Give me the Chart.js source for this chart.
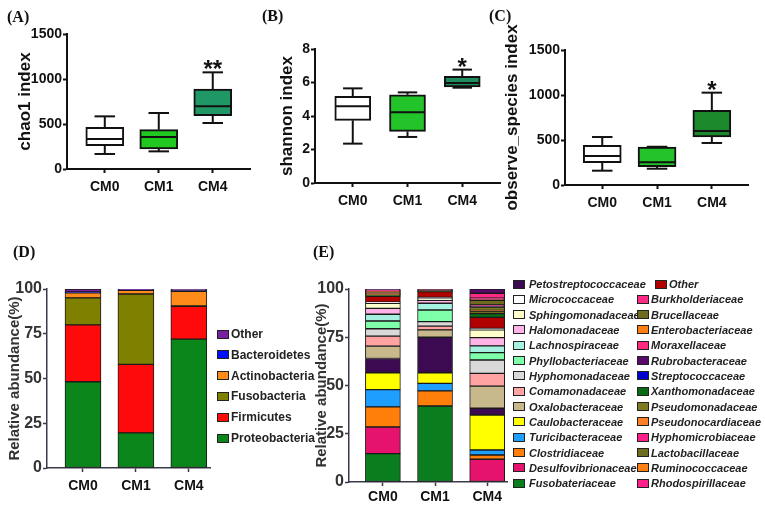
<!DOCTYPE html>
<html><head><meta charset="utf-8">
<script src="https://cdn.jsdelivr.net/npm/chart.js@4.4.1/dist/chart.umd.min.js"></script>
<style>
html,body{margin:0;padding:0;background:#fff;}
#wrap{position:relative;width:765px;height:505px;overflow:hidden;background:#fff;font-family:'Liberation Sans',Arial,sans-serif;}
canvas{position:absolute;}
.pl{position:absolute;font-family:'Liberation Serif','Times New Roman',serif;font-weight:bold;font-size:16px;color:#111;line-height:16px;}
.lg{position:absolute;display:flex;align-items:center;white-space:nowrap;font-weight:bold;color:#222;}
.lg i{position:absolute;box-sizing:border-box;border:1px solid #222;}
.lg span{position:absolute;}
</style></head><body>
<div id="wrap">
 <canvas id="cA" width="260" height="205" style="left:0;top:0"></canvas>
 <canvas id="cB" width="255" height="210" style="left:250px;top:0"></canvas>
 <canvas id="cC" width="265" height="210" style="left:500px;top:0"></canvas>
 <canvas id="cD" width="320" height="275" style="left:0;top:230px"></canvas>
 <canvas id="cE" width="200" height="275" style="left:310px;top:230px"></canvas>
 <div class="pl" style="left:7px;top:9px">(A)</div>
 <div class="pl" style="left:262px;top:8px">(B)</div>
 <div class="pl" style="left:489px;top:8px">(C)</div>
 <div class="pl" style="left:13px;top:244px">(D)</div>
 <div class="pl" style="left:313px;top:244px">(E)</div>
</div>
<script>
// ---------- data ----------
const groups = ['CM0', 'CM1', 'CM4'];
// five-number summaries per group: [min, q1, median, q3, max]
const chao1Stats   = [[167, 259, 333, 463, 585], [196, 222, 356, 437, 622], [511, 593, 696, 889, 1074]];
const shannonStats = [[2.35, 3.74, 4.58, 5.17, 5.65], [2.75, 3.08, 4.22, 5.27, 5.41], [5.69, 5.73, 5.97, 6.37, 6.77]];
const observeStats = [[159, 248, 322, 441, 533], [181, 204, 252, 422, 425], [467, 533, 600, 830, 1026]];
const chao1Sig   = ['', '', '**'];
const shannonSig = ['', '', '*'];
const observeSig = ['', '', '*'];

// phylum level (stack order bottom -> top)
const phyla     = ['Proteobacteria', 'Firmicutes', 'Fusobacteria', 'Actinobacteria', 'Bacteroidetes', 'Other'];
const phylumCM0 = [48.2, 31.8, 15.0, 2.8, 0.5, 1.7];
const phylumCM1 = [19.6, 38.3, 39.3, 2.1, 0.2, 0.5];
const phylumCM4 = [72.0, 18.3, 0.3, 8.1, 0.3, 1.0];

// family level (stack order bottom -> top)
const families = ['Fusobateriaceae', 'Desulfovibrionaceae', 'Clostridiaceae', 'Turicibacteraceae', 'Caulobacteraceae',
  'Petostreptococcaceae', 'Oxalobacteraceae', 'Comamonadaceae', 'Hyphomonadaceae', 'Phyllobacteriaceae',
  'Lachnospiraceae', 'Halomonadaceae', 'Sphingomonadaceae', 'Micrococcaceae', 'Other',
  'Xanthomonadaceae', 'Lactobacillaceae', 'Pseudonocardiaceae', 'Pseudomonadaceae', 'Streptococcaceae',
  'Ruminococcaceae', 'Hyphomicrobiaceae', 'Brucellaceae', 'Enterobacteriaceae', 'Moraxellaceae',
  'Rhodospirillaceae', 'Burkholderiaceae', 'Rubrobacteraceae'];
const familyCM0 = [14.7, 13.8, 10.4, 9.0, 8.7, 7.4, 6.4, 5.2, 3.8, 4.0, 3.5, 3.1, 2.6, 0.6, 3.0,
  0.4, 0.3, 0.2, 0.3, 0.1, 0.2, 0.2, 0.5, 0.2, 0.2, 0.2, 0.5, 0.5];
const familyCM1 = [39.4, 0, 7.8, 3.9, 5.5, 18.4, 3.8, 2.0, 2.3, 6.0, 3.5, 1.5, 0.8, 0.8, 2.9,
  0.1, 0.1, 0, 0.1, 0, 0, 0, 0.1, 0, 0, 0, 1.0, 0];
const familyCM4 = [0, 11.8, 2.2, 2.6, 18.1, 3.5, 11.5, 6.6, 6.9, 3.8, 3.5, 4.3, 4.0, 0.8, 5.7,
  1.9, 1.4, 0.3, 1.7, 0.3, 0.3, 0.5, 2.4, 0.3, 0.3, 0.5, 2.6, 2.2];
const familyLegendLeft = ['Petostreptococcaceae', 'Micrococcaceae', 'Sphingomonadaceae', 'Halomonadaceae',
  'Lachnospiraceae', 'Phyllobacteriaceae', 'Hyphomonadaceae', 'Comamonadaceae', 'Oxalobacteraceae',
  'Caulobacteraceae', 'Turicibacteraceae', 'Clostridiaceae', 'Desulfovibrionaceae', 'Fusobateriaceae'];
const familyLegendRight = ['Other', 'Burkholderiaceae', 'Brucellaceae', 'Enterobacteriaceae', 'Moraxellaceae',
  'Rubrobacteraceae', 'Streptococcaceae', 'Xanthomonadaceae', 'Pseudomonadaceae', 'Pseudonocardiaceae',
  'Hyphomicrobiaceae', 'Lactobacillaceae', 'Ruminococcaceae', 'Rhodospirillaceae'];

// ---------- styles ----------
const boxColorsA = ['#ffffff', '#22c822', '#1f9866'];
const boxColorsB = ['#ffffff', '#22c42a', '#1e8c5c'];
const boxColorsC = ['#ffffff', '#22c42a', '#1c8a2c'];
const phylumColors = ['#0a861a', '#ff0a0a', '#808000', '#ff8c1a', '#0010ff', '#7a1fa2'];
const familyColors = ['#0a7d1e', '#e6136e', '#ff7f0a', '#1e9fff', '#ffff00',
  '#3c0a50', '#c8b98c', '#ffa3a3', '#d9d9d9', '#80ffaa',
  '#a6f0e0', '#ffb3e6', '#ffffcc', '#ffffff', '#b00000',
  '#0a6a14', '#6e6c20', '#ff7f27', '#7d7a20', '#0000cc',
  '#ff7f10', '#ff1f8a', '#6e6a1e', '#ff8010', '#ff2a7f',
  '#ff1f8a', '#ff2a85', '#5a0a6a'];

Chart.defaults.font.family = "'Liberation Sans', Arial, sans-serif";
Chart.defaults.font.weight = 'bold';
Chart.defaults.color = '#111';

const whiskerPlugin = {
  id: 'whisker',
  afterDatasetsDraw(chart, args, o) {
    if (!o || !o.stats) return;
    const ctx = chart.ctx, xs = chart.scales.x, ys = chart.scales.y;
    ctx.save();
    ctx.strokeStyle = '#111'; ctx.lineWidth = 2;
    const seg = (x1, y1, x2, y2) => { ctx.beginPath(); ctx.moveTo(x1, y1); ctx.lineTo(x2, y2); ctx.stroke(); };
    o.stats.forEach((s, i) => {
      const cx = xs.getPixelForValue(i);
      const hw = o.boxWidth / 2, cw = o.boxWidth * 0.27;
      const p = s.map(v => ys.getPixelForValue(v));
      seg(cx, p[4], cx, p[3]); seg(cx, p[1], cx, p[0]);
      seg(cx - cw, p[4], cx + cw, p[4]); seg(cx - cw, p[0], cx + cw, p[0]);
      seg(cx - hw + 1, p[2], cx + hw - 1, p[2]);
      if (o.sig && o.sig[i]) {
        ctx.fillStyle = '#111'; ctx.font = "bold 24px 'Liberation Sans', Arial";
        ctx.textAlign = 'center'; ctx.textBaseline = 'alphabetic';
        ctx.fillText(o.sig[i], cx, p[4] + 5);
      }
    });
    ctx.restore();
  }
};

function xAxis(g, col, bw) {
  return {
    type: 'linear', min: g.xmin, max: g.xmax, stacked: true, offset: false, bounds: 'data',
    afterDataLimits: s => { s.min = g.xmin; s.max = g.xmax; },
    afterBuildTicks: s => { s.ticks = [0, 1, 2].map(v => ({ value: v })); },
    afterFit: s => { s.height = g.xh; },
    grid: { display: true, offset: false, drawOnChartArea: false, drawTicks: true, tickLength: 4, tickWidth: bw, tickColor: col },
    border: { display: true, color: col, width: bw },
    ticks: { callback: v => groups[v] ?? '', font: { size: 14, weight: 'bold' }, color: '#111', padding: g.xp, autoSkip: false, maxRotation: 0 }
  };
}
function yAxis(g, col, bw, max, step, title, tsize, lsize, tcol) {
  return {
    min: 0, max: max, stacked: true,
    afterFit: s => { s.width = g.yw; },
    grid: { display: true, drawOnChartArea: false, drawTicks: true, tickLength: 4, tickWidth: bw, tickColor: col },
    border: { display: true, color: col, width: bw },
    ticks: { stepSize: step, callback: v => String(v), font: { size: lsize, weight: 'bold' }, color: tcol, padding: 1 },
    title: { display: true, text: title, font: { size: tsize, weight: 'bold' }, color: tcol, padding: { top: g.tp, bottom: 0 } }
  };
}

function boxChart(id, stats, sig, colors, yMax, yStep, title, g) {
  return new Chart(document.getElementById(id), {
    type: 'bar',
    data: { datasets: [{
      data: stats.map((s, i) => ({ x: i, y: [s[1], s[3]] })),
      backgroundColor: colors, borderColor: '#111', borderWidth: 2, borderSkipped: false, barThickness: g.bw
    }] },
    options: {
      responsive: false, animation: false, devicePixelRatio: 1,
      layout: { padding: { top: g.pt, right: g.pr, left: 0, bottom: 0 } },
      plugins: { legend: { display: false }, tooltip: { enabled: false }, whisker: { stats: stats, sig: sig, boxWidth: g.bw } },
      scales: { x: xAxis(g, '#111', 2), y: yAxis(g, '#111', 2, yMax, yStep, title, 17, 14, '#111') }
    },
    plugins: [whiskerPlugin]
  });
}

function stackChart(id, names, colors, byGroup, g) {
  const datasets = names.map((n, k) => ({
    label: n,
    data: byGroup.map((vals, i) => ({ x: i, y: vals[k] })),
    backgroundColor: colors[k], borderColor: '#1a1a1a', borderWidth: 1, borderSkipped: false, barThickness: g.bw
  }));
  return new Chart(document.getElementById(id), {
    type: 'bar',
    data: { datasets },
    options: {
      responsive: false, animation: false, devicePixelRatio: 1,
      layout: { padding: { top: g.pt, right: g.pr, left: 0, bottom: 0 } },
      plugins: { legend: { display: false }, tooltip: { enabled: false } },
      scales: { x: xAxis(g, '#3a3a4a', 1.5), y: yAxis(g, '#3a3a4a', 1.5, 100, 25, 'Relative abundance(%)', 15, 16, '#333') }
    }
  });
}

boxChart('cA', chao1Stats, chao1Sig, boxColorsA, 1500, 500, 'chao1 index',
  { pt: 34, pr: 10, yw: 67, xh: 36, xmin: -0.70, xmax: 2.69, bw: 38, tp: 15, xp: 6 });
boxChart('cB', shannonStats, shannonSig, boxColorsB, 8, 2, 'shannon index',
  { pt: 49, pr: 5, yw: 65, xh: 27, xmin: -0.69, xmax: 2.69, bw: 36, tp: 27, xp: 6 });
boxChart('cC', observeStats, observeSig, boxColorsC, 1500, 500, 'observe_species index',
  { pt: 50, pr: 17, yw: 65, xh: 25, xmin: -0.68, xmax: 2.66, bw: 38, tp: 2, xp: 6 });
stackChart('cD', phyla, phylumColors, [phylumCM0, phylumCM1, phylumCM4],
  { pt: 59, pr: 110, yw: 47, xh: 37, xmin: -0.68, xmax: 2.40, bw: 36, tp: 6, xp: 6 });
stackChart('cE', families, familyColors, [familyCM0, familyCM1, familyCM4],
  { pt: 59, pr: 3, yw: 39, xh: 23, xmin: -0.65, xmax: 2.38, bw: 35, tp: 3, xp: 3 });

// ---------- HTML legends ----------
const wrap = document.getElementById('wrap');
function legendItem(x, cy, bw, bh, tx, text, color, font) {
  const d = document.createElement('div');
  d.className = 'lg';
  d.style.left = x + 'px'; d.style.top = (cy - 8) + 'px'; d.style.height = '16px'; d.style.font = font;
  const b = document.createElement('i');
  b.style.left = '0px'; b.style.top = (8 - bh / 2) + 'px'; b.style.width = bw + 'px'; b.style.height = bh + 'px';
  b.style.background = color;
  const s = document.createElement('span');
  s.textContent = text; s.style.left = tx + 'px'; s.style.top = '0px'; s.style.lineHeight = '16px';
  d.appendChild(b); d.appendChild(s); wrap.appendChild(d);
}
phyla.slice().reverse().forEach((n, r) => {
  legendItem(217, 334 + r * 20.8, 12, 9, 14, n, phylumColors[phyla.indexOf(n)], "bold 12px 'Liberation Sans', Arial");
});
const famFont = "italic bold 11px 'Liberation Sans', Arial";
familyLegendLeft.forEach((n, r) => {
  legendItem(513, 284 + r * 15.33, 12, 9, 16, n, familyColors[families.indexOf(n)], famFont);
});
familyLegendRight.forEach((n, r) => {
  const x = r === 0 ? 655 : 637;
  legendItem(x, 284 + r * 15.33, 12, 9, 14, n, familyColors[families.indexOf(n)], famFont);
});
</script>
</body></html>
